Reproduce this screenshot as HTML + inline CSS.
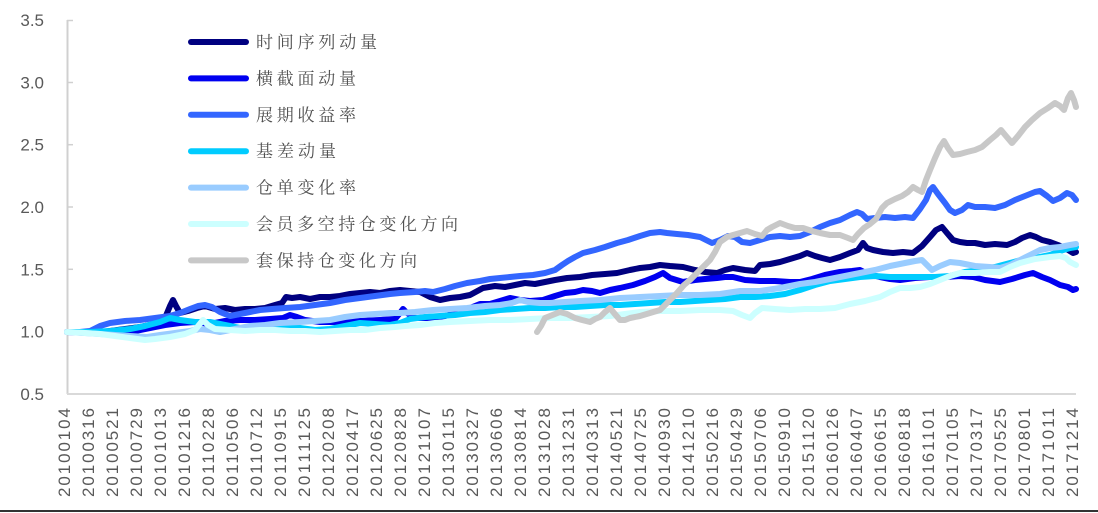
<!DOCTYPE html>
<html>
<head>
<meta charset="utf-8">
<style>
html,body{margin:0;padding:0;background:#fff;}
body{width:1098px;height:513px;overflow:hidden;position:relative;}
svg{display:block;}
.yl{font-family:"Liberation Sans",sans-serif;font-size:17px;fill:#595959;}
.xl{font-family:"Liberation Sans",sans-serif;font-size:17px;fill:#595959;}
.lg{font-family:"Liberation Serif","Noto Serif CJK SC",serif;font-size:17px;fill:#505050;}
.s{fill:none;stroke-width:6;stroke-linejoin:round;stroke-linecap:round;}
</style>
</head>
<body>
<svg width="1098" height="513" viewBox="0 0 1098 513" xmlns="http://www.w3.org/2000/svg">
<rect width="1098" height="513" fill="#fff"/>
<!-- axes -->
<line x1="67.5" y1="20" x2="67.5" y2="394" stroke="#d0d0d0" stroke-width="2"/>
<line x1="67" y1="394" x2="1076" y2="394" stroke="#d9d9d9" stroke-width="2"/>
<g stroke="#d0d0d0" stroke-width="1.5">
<line x1="67" y1="20.5" x2="73" y2="20.5"/>
<line x1="67" y1="82.5" x2="73" y2="82.5"/>
<line x1="67" y1="144.7" x2="73" y2="144.7"/>
<line x1="67" y1="207" x2="73" y2="207"/>
<line x1="67" y1="269.3" x2="73" y2="269.3"/>
<line x1="67" y1="331.7" x2="73" y2="331.7"/>
</g>
<!-- y labels -->
<g class="yl" text-anchor="end">
<text x="44" y="26">3.5</text>
<text x="44" y="88.3">3.0</text>
<text x="44" y="150.7">2.5</text>
<text x="44" y="213">2.0</text>
<text x="44" y="275.3">1.5</text>
<text x="44" y="337.7">1.0</text>
<text x="44" y="400">0.5</text>
</g>
<!-- x labels -->
<g class="xl" text-anchor="end">
<text transform="translate(70,408) rotate(-90)" textLength="89" lengthAdjust="spacing">20100104</text>
<text transform="translate(94,408) rotate(-90)" textLength="89" lengthAdjust="spacing">20100316</text>
<text transform="translate(118,408) rotate(-90)" textLength="89" lengthAdjust="spacing">20100521</text>
<text transform="translate(142,408) rotate(-90)" textLength="89" lengthAdjust="spacing">20100729</text>
<text transform="translate(166,408) rotate(-90)" textLength="89" lengthAdjust="spacing">20101013</text>
<text transform="translate(190,408) rotate(-90)" textLength="89" lengthAdjust="spacing">20101216</text>
<text transform="translate(214,408) rotate(-90)" textLength="89" lengthAdjust="spacing">20110228</text>
<text transform="translate(238,408) rotate(-90)" textLength="89" lengthAdjust="spacing">20110506</text>
<text transform="translate(262,408) rotate(-90)" textLength="89" lengthAdjust="spacing">20110712</text>
<text transform="translate(286,408) rotate(-90)" textLength="89" lengthAdjust="spacing">20110915</text>
<text transform="translate(310,408) rotate(-90)" textLength="89" lengthAdjust="spacing">20111125</text>
<text transform="translate(334,408) rotate(-90)" textLength="89" lengthAdjust="spacing">20120208</text>
<text transform="translate(358,408) rotate(-90)" textLength="89" lengthAdjust="spacing">20120417</text>
<text transform="translate(382,408) rotate(-90)" textLength="89" lengthAdjust="spacing">20120625</text>
<text transform="translate(406,408) rotate(-90)" textLength="89" lengthAdjust="spacing">20120828</text>
<text transform="translate(430,408) rotate(-90)" textLength="89" lengthAdjust="spacing">20121107</text>
<text transform="translate(454,408) rotate(-90)" textLength="89" lengthAdjust="spacing">20130115</text>
<text transform="translate(478,408) rotate(-90)" textLength="89" lengthAdjust="spacing">20130327</text>
<text transform="translate(502,408) rotate(-90)" textLength="89" lengthAdjust="spacing">20130606</text>
<text transform="translate(526,408) rotate(-90)" textLength="89" lengthAdjust="spacing">20130814</text>
<text transform="translate(550,408) rotate(-90)" textLength="89" lengthAdjust="spacing">20131028</text>
<text transform="translate(574,408) rotate(-90)" textLength="89" lengthAdjust="spacing">20131231</text>
<text transform="translate(598,408) rotate(-90)" textLength="89" lengthAdjust="spacing">20140313</text>
<text transform="translate(622,408) rotate(-90)" textLength="89" lengthAdjust="spacing">20140521</text>
<text transform="translate(646,408) rotate(-90)" textLength="89" lengthAdjust="spacing">20140725</text>
<text transform="translate(670,408) rotate(-90)" textLength="89" lengthAdjust="spacing">20140930</text>
<text transform="translate(694,408) rotate(-90)" textLength="89" lengthAdjust="spacing">20141210</text>
<text transform="translate(718,408) rotate(-90)" textLength="89" lengthAdjust="spacing">20150216</text>
<text transform="translate(742,408) rotate(-90)" textLength="89" lengthAdjust="spacing">20150429</text>
<text transform="translate(766,408) rotate(-90)" textLength="89" lengthAdjust="spacing">20150706</text>
<text transform="translate(790,408) rotate(-90)" textLength="89" lengthAdjust="spacing">20150910</text>
<text transform="translate(814,408) rotate(-90)" textLength="89" lengthAdjust="spacing">20151120</text>
<text transform="translate(838,408) rotate(-90)" textLength="89" lengthAdjust="spacing">20160126</text>
<text transform="translate(862,408) rotate(-90)" textLength="89" lengthAdjust="spacing">20160407</text>
<text transform="translate(886,408) rotate(-90)" textLength="89" lengthAdjust="spacing">20160615</text>
<text transform="translate(910,408) rotate(-90)" textLength="89" lengthAdjust="spacing">20160818</text>
<text transform="translate(934,408) rotate(-90)" textLength="89" lengthAdjust="spacing">20161101</text>
<text transform="translate(958,408) rotate(-90)" textLength="89" lengthAdjust="spacing">20170105</text>
<text transform="translate(982,408) rotate(-90)" textLength="89" lengthAdjust="spacing">20170317</text>
<text transform="translate(1006,408) rotate(-90)" textLength="89" lengthAdjust="spacing">20170525</text>
<text transform="translate(1030,408) rotate(-90)" textLength="89" lengthAdjust="spacing">20170801</text>
<text transform="translate(1054,408) rotate(-90)" textLength="89" lengthAdjust="spacing">20171011</text>
<text transform="translate(1078,408) rotate(-90)" textLength="89" lengthAdjust="spacing">20171214</text>
</g>

<!-- series -->
<polyline class="s" stroke="#000080" points="67,332 80,332 95,333 110,331 125,329 140,327 155,324 165,318 170,306 173,300 176,306 180,313 188,311 197,308 205,306 215,309 225,308 235,310 245,309 255,309 265,308 275,305 282,303 286,297 292,298 300,297 310,299 320,297 330,297 340,296 350,294 360,293 370,292 380,293 390,291 400,290 410,291 420,292 430,297 440,300 450,298 460,297 470,295 483,288 495,286 505,287 515,285 525,283 535,284 545,282 555,280 567,278 580,277 592,275 605,274 617,273 630,270 640,268 650,267 660,265 670,266 683,267 695,270 705,272 717,273 725,270 733,268 745,270 755,271 760,265 770,264 780,262 790,259 800,256 807,253 815,256 822,258 830,260 840,257 850,253 858,250 863,243 867,248 873,250 883,252 893,253 903,252 913,253 922,246 930,237 936,230 942,227 947,233 953,240 960,242 967,243 975,243 985,245 995,244 1007,245 1015,242 1022,238 1030,235 1036,237 1042,240 1050,242 1058,245 1065,248 1073,253 1076,252"/>

<polyline class="s" stroke="#0000f0" points="67,332 90,333 110,334 130,332 150,328 165,325 180,323 195,322 210,324 225,321 240,320 255,320 270,319 283,318 290,315 297,317 305,320 320,322 340,322 360,321 380,320 395,319 400,313 403,309 407,313 415,318 430,318 445,316 460,312 470,308 480,304 490,304 500,301 510,298 520,300 530,301 543,300 555,296 565,293 575,292 583,290 592,291 600,293 610,290 620,288 633,285 645,281 655,277 663,273 670,278 683,282 695,280 705,279 717,278 725,277 733,277 745,280 760,281 775,281 790,282 800,282 812,279 825,275 840,272 852,271 860,270 868,274 880,277 890,279 900,280 915,278 930,277 945,277 960,276 973,277 985,280 1000,282 1012,279 1025,275 1033,273 1042,277 1050,280 1060,285 1068,287 1073,290 1076,289"/>

<polyline class="s" stroke="#3366ff" points="67,332 80,332 90,331 100,326 110,323 125,321 140,320 155,318 170,316 180,313 190,309 198,306 205,305 212,307 220,312 230,316 240,314 250,312 260,310 272,309 285,308 300,307 315,305 330,303 345,300 360,298 375,296 390,294 400,293 415,292 425,291 433,292 445,289 455,286 467,283 480,281 490,279 500,278 510,277 520,276 533,275 545,273 555,270 562,265 568,261 575,257 583,253 595,250 605,247 617,243 628,240 640,236 650,233 660,232 667,233 677,234 688,235 700,237 706,240 712,243 720,240 728,236 735,237 742,242 750,243 760,240 770,237 780,236 790,237 800,236 810,232 820,227 830,223 840,220 850,215 857,212 862,214 867,219 875,218 885,217 895,218 905,217 913,218 920,209 926,200 930,190 933,187 938,194 945,203 950,210 955,213 962,210 968,205 975,207 985,207 995,208 1005,205 1015,200 1025,196 1035,192 1040,191 1047,196 1053,201 1060,198 1067,193 1072,195 1076,200"/>

<polyline class="s" stroke="#00ccff" points="67,332 90,332 110,331 130,329 145,326 160,322 170,318 180,320 195,322 210,322 225,325 240,328 255,330 270,329 285,328 300,328 315,330 330,329 345,326 360,323 375,324 390,325 400,323 410,319 425,317 440,316 455,315 470,313 485,312 500,310 515,309 530,308 545,308 560,307 575,307 590,306 605,305 620,305 635,304 650,303 665,302 680,302 695,301 710,300 725,299 740,297 755,297 770,296 785,294 800,290 815,285 830,281 845,279 860,277 875,276 890,277 905,277 920,277 935,277 950,276 965,272 980,270 995,267 1010,263 1025,259 1040,257 1050,255 1060,251 1070,248 1076,247"/>

<polyline class="s" stroke="#99ccff" points="67,332 85,333 100,334 115,335 130,336 147,337 160,335 175,333 190,331 200,329 210,330 220,332 235,329 250,326 265,325 280,323 300,322 315,321 330,320 345,317 360,315 375,314 390,313 400,313 415,312 433,310 450,309 467,308 485,306 500,305 512,303 520,300 528,302 540,303 550,303 565,302 580,301 600,300 620,298 640,297 660,296 680,295 700,295 720,294 740,291 760,291 780,288 800,284 815,282 830,279 845,276 860,273 875,270 890,266 905,263 915,261 922,260 928,266 932,270 940,266 950,262 960,263 975,266 990,267 1000,268 1010,265 1020,260 1030,255 1040,250 1050,248 1060,247 1070,245 1076,244"/>

<polyline class="s" stroke="#ccffff" points="67,332 85,333 100,334 115,336 130,338 145,340 155,339 170,337 185,334 195,330 203,320 208,325 215,329 230,330 245,331 260,330 275,330 290,331 305,331 320,332 335,331 350,330 365,330 380,328 395,327 405,326 420,325 435,323 450,322 470,321 490,320 510,320 530,319 550,318 570,318 590,317 610,316 625,314 640,312 660,311 680,311 700,310 720,310 733,311 742,315 750,318 755,313 762,308 775,309 790,310 805,309 820,309 835,308 850,304 865,301 880,297 890,292 900,288 910,288 920,287 930,284 940,280 950,276 960,273 975,273 990,272 1000,272 1010,267 1020,263 1035,259 1050,257 1060,256 1066,258 1070,262 1076,265"/>

<polyline class="s" stroke="#c8c8c8" points="537,332 541,326 545,318 550,316 555,314 560,312 567,314 575,318 582,320 590,322 595,319 600,317 605,312 610,308 614,313 620,320 625,320 630,318 640,316 650,313 660,310 665,305 670,300 677,293 684,285 690,280 695,275 700,270 705,265 710,260 715,252 720,242 727,237 733,235 740,233 747,231 755,234 762,236 767,230 772,227 780,223 788,226 795,228 803,228 812,231 820,233 830,235 840,235 848,238 853,240 858,234 864,228 870,224 876,219 882,208 887,203 895,199 902,196 908,192 913,187 918,190 922,192 926,180 930,170 935,158 940,147 944,141 948,148 953,155 960,154 967,152 975,150 982,147 990,140 996,135 1001,130 1006,136 1012,143 1018,136 1025,127 1032,120 1040,113 1048,108 1055,103 1060,106 1064,110 1068,98 1071,93 1074,100 1076,107"/>

<!-- legend -->
<g stroke-width="6" stroke-linecap="round">
<line x1="191" y1="42" x2="246" y2="42" stroke="#000080"/>
<line x1="191" y1="78.4" x2="246" y2="78.4" stroke="#0000f0"/>
<line x1="191" y1="114.8" x2="246" y2="114.8" stroke="#3366ff"/>
<line x1="191" y1="151.2" x2="246" y2="151.2" stroke="#00ccff"/>
<line x1="191" y1="187.6" x2="246" y2="187.6" stroke="#99ccff"/>
<line x1="191" y1="224" x2="246" y2="224" stroke="#ccffff"/>
<line x1="191" y1="260.4" x2="246" y2="260.4" stroke="#c8c8c8"/>
</g>
<g class="lg">
<text x="256" y="48" textLength="121" lengthAdjust="spacing">时间序列动量</text>
<text x="256" y="84.4" textLength="100" lengthAdjust="spacing">横截面动量</text>
<text x="256" y="120.8" textLength="100" lengthAdjust="spacing">展期收益率</text>
<text x="256" y="157.2" textLength="80" lengthAdjust="spacing">基差动量</text>
<text x="256" y="193.6" textLength="100" lengthAdjust="spacing">仓单变化率</text>
<text x="256" y="230" textLength="202" lengthAdjust="spacing">会员多空持仓变化方向</text>
<text x="256" y="266.4" textLength="161" lengthAdjust="spacing">套保持仓变化方向</text>
</g>

<!-- bottom border -->
<rect x="0" y="510" width="1098" height="2" fill="#333"/>
</svg>
</body>
</html>
